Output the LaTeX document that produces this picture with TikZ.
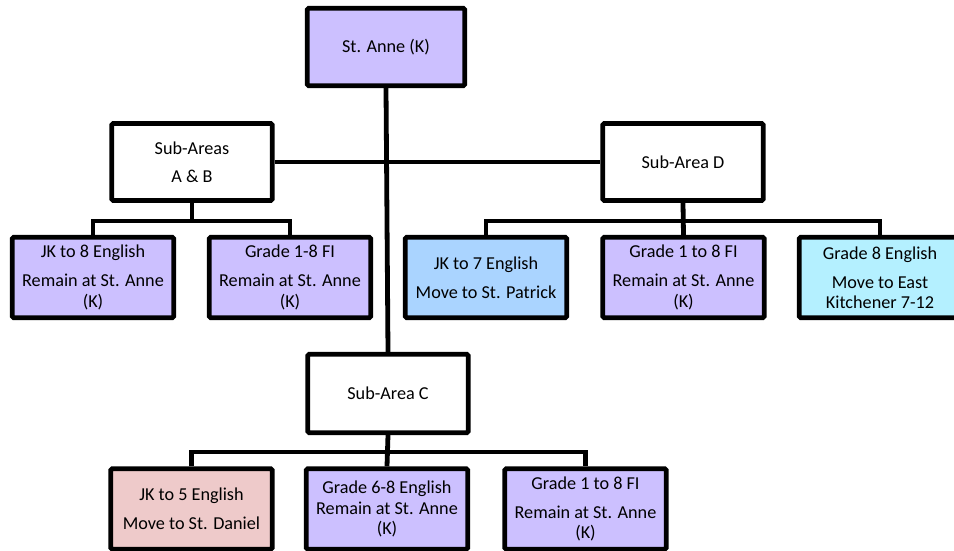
\documentclass[tikz,border=0pt]{standalone}
\usepackage{fontspec}
\setmainfont{Carlito}
\usetikzlibrary{positioning}

\definecolor{lavender}{RGB}{204,192,255}
\definecolor{skyblue}{RGB}{170,212,255}
\definecolor{aqua}{RGB}{180,240,255}
\definecolor{rose}{RGB}{238,202,202}

\begin{document}
\begin{tikzpicture}[x=1pt,y=-1pt,
  box/.style={draw, line width=4.8pt, rounded corners=1.5pt, align=center,
    inner sep=2pt, font=\fontsize{18.2}{20.5}\selectfont},
  headbox/.style={box, fill=white, minimum width=160.5pt, minimum height=77pt},
  leafbox/.style={box, fill=lavender, minimum width=161.5pt, minimum height=80.5pt},
  link/.style={line width=4.8pt}]
  \useasboundingbox (0,0) rectangle (954,550);

  % Top school
  \node[box, fill=lavender, minimum width=157.5pt, minimum height=77.5pt] (anne) at (386,47) {St. Anne (K)};

  % Sub-areas
  \node[headbox] (ab) at (192,162) {Sub-Areas\\[8pt]A \& B};
  \node[headbox] (d) at (683,162) {Sub-Area D};
  \node[headbox, minimum height=78.5pt] (c) at (388,393.5) {Sub-Area C};

  % Sub-areas A & B
  \node[leafbox] (ab1) at (93,277.5) {JK to 8 English\\[8.5pt]Remain at St. Anne\\(K)};
  \node[leafbox] (ab2) at (290,277.5) {Grade 1-8 FI\\[8.5pt]Remain at St. Anne\\(K)};

  % Sub-area D
  \node[leafbox, fill=skyblue] (d1) at (486,277.5) {JK to 7 English\\[8.5pt]Move to St. Patrick};
  \node[leafbox] (d2) at (683.5,277.5) {Grade 1 to 8 FI\\[8.5pt]Remain at St. Anne\\(K)};
  \node[leafbox, fill=aqua] (d3) at (880,277.5) {Grade 8 English\\[8.5pt]Move to East\\Kitchener 7-12};

  % Sub-area C
  \node[leafbox, fill=rose] (c1) at (191.5,509) {JK to 5 English\\[8.5pt]Move to St. Daniel};
  \node[leafbox] (c2) at (387,509) {Grade 6-8 English\\Remain at St. Anne\\(K)};
  \node[leafbox] (c3) at (585.5,509) {Grade 1 to 8 FI\\[8.5pt]Remain at St. Anne\\(K)};

  % Bars
  \coordinate (barab) at (0,221);
  \coordinate (bard) at (0,221);
  \coordinate (barc) at (0,452);

  % Links
  \draw[link] (anne.south) -- (c.north);
  \draw[link] (ab.east) -- (d.west);
  \draw[link] (ab.south) -- (ab.south |- barab) -| (ab1.north);
  \draw[link] (ab.south |- barab) -| (ab2.north);
  \draw[link] (d.south) -- (d2.north);
  \draw[link] (d1.north) |- (d.south |- bard) -| (d3.north);
  \draw[link] (c.south) -- (c2.north);
  \draw[link] (c1.north) |- (c.south |- barc) -| (c3.north);
\end{tikzpicture}
\end{document}
